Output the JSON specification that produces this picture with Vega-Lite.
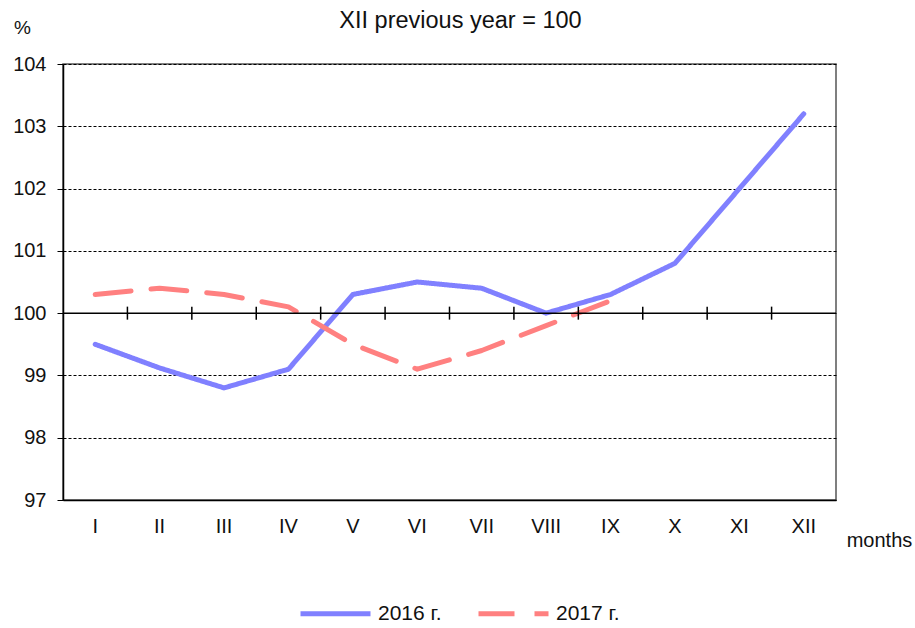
{
  "$schema": "https://vega.github.io/schema/vega-lite/v6.json",
  "width": 773,
  "height": 436,
  "autosize": {"type": "none"},
  "padding": {"left": 63, "top": 64, "right": 79, "bottom": 128},
  "background": "white",
  "config": {
    "font": "Liberation Sans",
    "view": {"stroke": "#555555", "strokeWidth": 1.5}
  },
  "title": {
    "text": "XII previous year = 100",
    "fontSize": 23.5,
    "fontWeight": "normal",
    "color": "#111111",
    "anchor": "middle",
    "dx": 11,
    "offset": -14
  },
  "datasets": {
    "series": [
      {"m": "I", "s": "2016 г.", "v": 99.5},
      {"m": "II", "s": "2016 г.", "v": 99.12},
      {"m": "III", "s": "2016 г.", "v": 98.8},
      {"m": "IV", "s": "2016 г.", "v": 99.1},
      {"m": "V", "s": "2016 г.", "v": 100.3},
      {"m": "VI", "s": "2016 г.", "v": 100.5},
      {"m": "VII", "s": "2016 г.", "v": 100.4},
      {"m": "VIII", "s": "2016 г.", "v": 100.0},
      {"m": "IX", "s": "2016 г.", "v": 100.3},
      {"m": "X", "s": "2016 г.", "v": 100.8},
      {"m": "XI", "s": "2016 г.", "v": 102.0},
      {"m": "XII", "s": "2016 г.", "v": 103.2},
      {"m": "I", "s": "2017 г.", "v": 100.3},
      {"m": "II", "s": "2017 г.", "v": 100.4},
      {"m": "III", "s": "2017 г.", "v": 100.3},
      {"m": "IV", "s": "2017 г.", "v": 100.1},
      {"m": "V", "s": "2017 г.", "v": 99.5},
      {"m": "VI", "s": "2017 г.", "v": 99.1},
      {"m": "VII", "s": "2017 г.", "v": 99.4},
      {"m": "VIII", "s": "2017 г.", "v": 99.8},
      {"m": "IX", "s": "2017 г.", "v": 100.2}
    ],
    "ticks": [
      {"m": "I"}, {"m": "II"}, {"m": "III"}, {"m": "IV"}, {"m": "V"}, {"m": "VI"},
      {"m": "VII"}, {"m": "VIII"}, {"m": "IX"}, {"m": "X"}, {"m": "XI"}
    ]
  },
  "layer": [
    {
      "data": {"name": "series"},
      "mark": {"type": "line", "strokeWidth": 5, "strokeCap": "round", "strokeJoin": "round"},
      "encoding": {
        "x": {
          "field": "m",
          "type": "ordinal",
          "scale": {"domain": ["I","II","III","IV","V","VI","VII","VIII","IX","X","XI","XII"], "paddingInner": 0, "paddingOuter": 0},
          "axis": {
            "title": "months",
            "titleFontSize": 20,
            "titleFontWeight": "normal",
            "titleColor": "#111111",
            "titleX": 816,
            "titleY": 40,
            "titleAlign": "center",
            "titleBaseline": "middle",
            "labelAngle": 0,
            "labelFontSize": 20,
            "labelColor": "#111111",
            "labelPadding": 16,
            "ticks": false,
            "domainColor": "#000000",
            "domainWidth": 1.5,
            "grid": false
          }
        },
        "y": {
          "field": "v",
          "type": "quantitative",
          "scale": {"domain": [97, 104], "nice": false, "zero": false},
          "axis": {
            "values": [97, 98, 99, 100, 101, 102, 103, 104],
            "format": "d",
            "title": "%",
            "titleFontSize": 19,
            "titleFontWeight": "normal",
            "titleColor": "#111111",
            "titleAngle": 0,
            "titleX": -41,
            "titleY": -37,
            "titleAlign": "center",
            "titleBaseline": "middle",
            "labelFontSize": 20,
            "labelColor": "#111111",
            "labelPadding": 11,
            "tickSize": 6,
            "tickColor": "#000000",
            "domainColor": "#000000",
            "domainWidth": 1.5,
            "grid": true,
            "gridColor": "#000000",
            "gridDash": [3, 2],
            "gridWidth": 1
          }
        },
        "color": {
          "field": "s",
          "type": "nominal",
          "scale": {"domain": ["2016 г.", "2017 г."], "range": ["#8080FF", "#FF8080"]},
          "legend": {
            "title": null,
            "orient": "none",
            "direction": "horizontal",
            "legendX": 235,
            "legendY": 512,
            "symbolType": "stroke",
            "symbolSize": 4900,
            "symbolStrokeWidth": 5,
            "labelFontSize": 21,
            "labelColor": "#111111",
            "labelOffset": 5,
            "columnPadding": 26
          }
        },
        "strokeDash": {
          "field": "s",
          "type": "nominal",
          "scale": {"domain": ["2016 г.", "2017 г."], "range": [[1, 0], [36, 20]]},
          "legend": null
        }
      }
    },
    {
      "data": {"values": [{}]},
      "mark": {"type": "rule", "color": "#000000", "strokeWidth": 1.5},
      "encoding": {"y": {"datum": 100}}
    },
    {
      "data": {"name": "ticks"},
      "mark": {"type": "tick", "orient": "vertical", "size": 13, "thickness": 1.5, "color": "#000000", "opacity": 1},
      "encoding": {
        "x": {"field": "m", "type": "ordinal", "bandPosition": 1},
        "y": {"datum": 100}
      }
    }
  ]
}
